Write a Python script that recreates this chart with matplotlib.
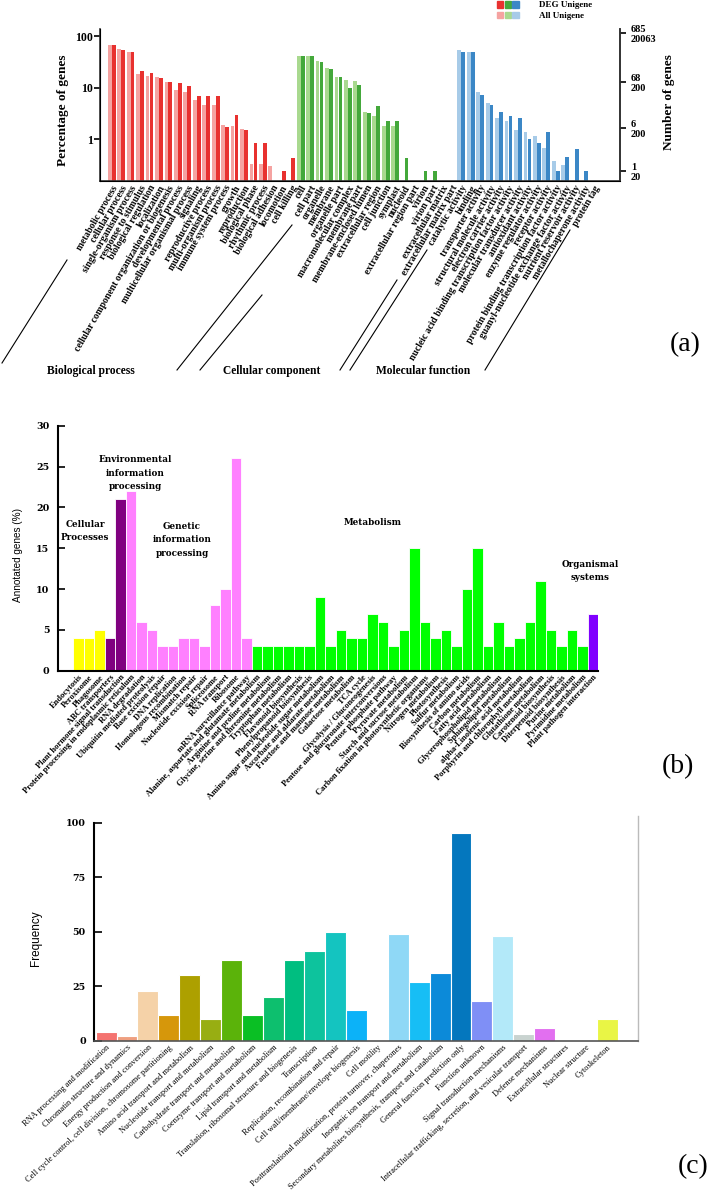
import matplotlib
matplotlib.use('Agg')
import matplotlib.pyplot as plt
from matplotlib.patches import Patch
from matplotlib.legend_handler import HandlerTuple
from matplotlib.lines import Line2D
from matplotlib.ticker import NullLocator
import numpy as np

# ---------------- DATA ----------------
# Panel (a): GO classification (percentage of genes, log scale)
bp_terms = ["metabolic process", "cellular process", "single-organism process", "response to stimulus",
            "biological regulation", "localization", "cellular component organization or biogenesis",
            "developmental process", "multicellular organismal process", "signaling", "reproductive process",
            "multi-organism process", "immune system process", "growth", "reproduction", "biological phase",
            "rhythmic process", "biological adhesion", "locomotion", "cell killing"]
bp_all = [67, 56, 49, 18.4, 16.8, 16.3, 12.7, 8.8, 8.0, 5.6, 4.6, 4.6, 1.9, 1.76, 1.56, 0.31, 0.31, 0.29, 0, 0]
bp_deg = [67, 53, 49, 21.3, 19, 15.1, 12.9, 12.1, 10.8, 6.7, 6.9, 6.7, 1.7, 2.9, 1.5, 0.81, 0.81, 0, 0.23, 0.42]

cc_terms = ["cell", "cell part", "organelle", "membrane", "organelle part", "macromolecular complex",
            "membrane part", "membrane-enclosed lumen", "extracellular region", "cell junction", "symplast",
            "nucleoid", "extracellular region part", "virion", "virion part", "extracellular matrix",
            "extracellular matrix part"]
cc_all = [41.7, 41.7, 33, 24, 16, 14, 13.6, 3.3, 2.75, 1.76, 1.76, 0, 0, 0, 0, 0, 0]
cc_deg = [41.7, 41.7, 31.8, 23, 15.8, 9.7, 11.3, 3.2, 4.4, 2.2, 2.2, 0.42, 0, 0.23, 0.23, 0, 0]

mf_terms = ["catalytic activity", "binding", "transporter activity", "structural molecule activity",
            "electron carrier activity", "nucleic acid binding transcription factor activity",
            "molecular transducer activity", "antioxidant activity", "enzyme regulator activity",
            "receptor activity", "protein binding transcription factor activity",
            "guanyl-nucleotide exchange factor activity", "nutrient reservoir activity",
            "metallochaperone activity", "protein tag"]
mf_all = [53.6, 48, 8, 5, 2.55, 2.26, 1.5, 1.35, 1.16, 0.65, 0.36, 0.3, 0, 0, 0]
mf_deg = [49, 48, 7, 4.5, 3.4, 2.75, 2.55, 1.0, 0.81, 1.37, 0.23, 0.43, 0.62, 0.23, 0]

right_tick_pos = [114, 12.8, 1.64, 0.24]
right_tick_labels = ["685\n20063", "68\n200", "6\n200", "1\n20"]

# Panel (b): KEGG classification (annotated genes %)
cell_terms = ["Endocytosis", "Peroxisome", "Phagosome"]
cell_vals = [4, 4, 5]
env_terms = ["ABC transporters", "Plant hormone signal transduction"]
env_vals = [4, 21]
gen_terms = ["Protein processing in endoplasmic reticulum", "RNA degradation", "Ubiquitin mediated proteolysis",
             "Base excision repair", "DNA replication", "Homologous recombination", "Mismatch repair",
             "Nucleotide excision repair", "Spliceosome", "RNA transport", "Ribosome", "mRNA surveillance pathway"]
gen_vals = [22, 6, 5, 3, 3, 4, 4, 3, 8, 10, 26, 4]
met_terms = ["Alanine, aspartate and glutamate metabolism", "Arginine and proline metabolism",
             "Glycine, serine and threonine metabolism", "Tryptophan metabolism", "Flavonoid biosynthesis",
             "Phenylpropanoid biosynthesis", "Amino sugar and nucleotide sugar metabolism",
             "Ascorbate and aldarate metabolism", "Fructose and mannose metabolism", "Galactose metabolism",
             "TCA cycle", "Glycolysis / Gluconeogenesis", "Pentose and glucuronate interconversions",
             "Pentose phosphate pathway", "Pyruvate metabolism", "Starch and sucrose metabolism",
             "Carbon fixation in photosynthetic organisms", "Nitrogen metabolism", "Photosynthesis",
             "Sulfur metabolism", "Biosynthesis of amino acids", "Carbon metabolism", "Fatty acid metabolism",
             "Glycerophospholipid metabolism", "Sphingolipid metabolism", "alpha-Linolenic acid metabolism",
             "Porphyrin and chlorophyll metabolism", "Glutathione metabolism", "Carotenoid biosynthesis",
             "Diterpenoid biosynthesis", "Purine metabolism", "Pyrimidine metabolism"]
met_vals = [3, 3, 3, 3, 3, 3, 9, 3, 5, 4, 4, 7, 6, 3, 5, 15, 6, 4, 5, 3, 10, 15, 3, 6, 3, 4, 6, 11, 5, 3, 5, 3]
org_terms = ["Plant pathogen interaction"]
org_vals = [7]

# Panel (c): KOG classification (frequency)
kog_terms = ["RNA processing and modification", "Chromatin structure and dynamics",
             "Energy production and conversion", "Cell cycle control, cell division, chromosome partitioning",
             "Amino acid transport and metabolism", "Nucleotide transport and metabolism",
             "Carbohydrate transport and metabolism", "Coenzyme transport and metabolism",
             "Lipid transport and metabolism", "Translation, ribosomal structure and biogenesis",
             "Transcription", "Replication, recombination and repair", "Cell wall/membrane/envelope biogenesis",
             "Cell motility", "Posttranslational modification, protein turnover, chaperones",
             "Inorganic ion transport and metabolism",
             "Secondary metabolites biosynthesis, transport and catabolism", "General function prediction only",
             "Function unknown", "Signal transduction mechanisms",
             "Intracellular trafficking, secretion, and vesicular transport", "Defense mechanisms",
             "Extracellular structures", "Nuclear structure", "Cytoskeleton"]
kog_vals = [4, 2, 23, 12, 30, 10, 37, 12, 20, 37, 41, 50, 14, 0, 49, 27, 31, 95, 18, 48, 3, 6, 0, 0, 10]
kog_colors = ["#F47370", "#EF9F80", "#F5D2A8", "#D6970B", "#ADA000", "#98AE12", "#5BB30A", "#0ABF24",
              "#0DBF6E", "#00BE80", "#0DC39D", "#14C4C0", "#0CB2F8", "#FFFFFF", "#8FD8F6", "#17BEF5",
              "#0C8AD9", "#0477BE", "#7F8FF6", "#B3E9F9", "#C9D3D0", "#E26FF0", "#FFFFFF", "#FFFFFF",
              "#E9F545"]

# ---------------- FIGURE ----------------
W, H = 709, 1203
fig = plt.figure(figsize=(W / 100, H / 100), dpi=100)
SERIF = ['Liberation Serif', 'DejaVu Serif']
WIDE = ['DejaVu Serif']
NARROW = ['Liberation Sans Narrow', 'Liberation Sans']


def add_ax(l, t, r, b):
    return fig.add_axes([l / W, 1 - b / H, (r - l) / W, (b - t) / H])


def fx(x):
    return x / W


def fy(y):
    return 1 - y / H


# ---------------- Panel (a) ----------------
bp_dark, bp_light = "#E8312F", "#F5A3A1"
cc_dark, cc_light = "#44A83B", "#A9D98F"
mf_dark, mf_light = "#3B87C6", "#A7CBE8"

terms_a = bp_terms + cc_terms + mf_terms
n_a = len(terms_a)
axa = add_ax(100, 29, 620, 181)
start = 0
for terms, allv, degv, cd, cl in [(bp_terms, bp_all, bp_deg, bp_dark, bp_light),
                                   (cc_terms, cc_all, cc_deg, cc_dark, cc_light),
                                   (mf_terms, mf_all, mf_deg, mf_dark, mf_light)]:
    xs = np.arange(start, start + len(terms))
    allv = np.array(allv, dtype=float)
    degv = np.array(degv, dtype=float)
    m1 = allv > 0
    m2 = degv > 0
    axa.bar(xs[m1] - 0.21, allv[m1], width=0.4, color=cl, bottom=0.01)
    axa.bar(xs[m2] + 0.21, degv[m2], width=0.4, color=cd, bottom=0.01)
    start += len(terms)

axa.set_yscale('log')
axa.set_ylim(0.153, 137)
axa.set_xlim(-1.24, n_a - 1 + 2.8)
axa.set_yticks([1, 10, 100])
axa.set_yticklabels(['1', '10', '100'])
axa.yaxis.set_minor_locator(NullLocator())
for lab in axa.get_yticklabels():
    lab.set_fontfamily(SERIF)
    lab.set_fontweight('bold')
    lab.set_fontsize(8.5)
axa.tick_params(axis='y', direction='out', length=4, width=1.2, pad=1)
axa.set_xticks(np.arange(n_a))
axa.set_xticklabels(terms_a, rotation=60, ha='right', va='top', rotation_mode='anchor',
                    fontsize=6.9, fontweight='bold', family=SERIF)
axa.tick_params(axis='x', length=0, pad=2)
axa.spines['top'].set_visible(False)
for s in ['left', 'bottom', 'right']:
    axa.spines[s].set_linewidth(1.2)
    axa.spines[s].set_color('#333333')
axa.set_ylabel("Percentage of genes", family=SERIF, fontweight='bold', fontsize=9.5)
axa.yaxis.set_label_coords((69 - 100) / 520, (181 - 110) / 152)

axa2 = axa.twinx()
axa2.set_yscale('log')
axa2.set_ylim(axa.get_ylim())
axa2.set_yticks(right_tick_pos)
axa2.set_yticklabels(right_tick_labels, family=SERIF, fontweight='bold', fontsize=7.5,
                     linespacing=1.1, ha='left')
axa2.yaxis.set_minor_locator(NullLocator())
axa2.tick_params(axis='y', direction='out', length=4, width=1.2, pad=4)
axa2.spines['top'].set_visible(False)
axa2.spines['right'].set_linewidth(1.2)
axa2.spines['right'].set_color('#333333')
axa2.set_ylabel("Number of genes", family=SERIF, fontweight='bold', fontsize=9.5, rotation=90)
axa2.yaxis.set_label_coords((663 - 100) / 520, (181 - 102) / 152)

# group separators and labels
for (x1, y1, x2, y2) in [(2, 363, 67, 260), (177, 370, 292, 225), (200, 370, 262, 295),
                         (340, 370, 397, 280), (350, 370, 427, 250), (485, 370, 570, 230)]:
    fig.add_artist(Line2D([fx(x1), fx(x2)], [fy(y1), fy(y2)], color='black', lw=0.8))
for txt, cx in [("Biological process", 91), ("Cellular component", 272), ("Molecular function", 423)]:
    fig.text(fx(cx), fy(371), txt, ha='center', va='center', family=SERIF, fontweight='bold', fontsize=8.3)

fig.legend(handles=[(Patch(color=bp_dark), Patch(color=cc_dark), Patch(color=mf_dark)),
                    (Patch(color=bp_light), Patch(color=cc_light), Patch(color=mf_light))],
           labels=['DEG Unigene', 'All Unigene'],
           handler_map={tuple: HandlerTuple(ndivide=None, pad=0.15)},
           loc='upper left', bbox_to_anchor=(fx(496), fy(0)), frameon=False,
           prop=dict(family=SERIF, weight='bold', size=6.5), handlelength=2.4, handleheight=0.75,
           handletextpad=2.3, labelspacing=0.25, borderpad=0.1, borderaxespad=0)

fig.text(fx(685), fy(345), "(a)", ha='center', va='center', family=SERIF, fontsize=20)

# ---------------- Panel (b) ----------------
class_colors = {"cell": "#FFFF00", "env": "#800080", "gen": "#FF80FF", "met": "#00FF00", "org": "#8000FF"}
terms_b = cell_terms + env_terms + gen_terms + met_terms + org_terms
vals_b = cell_vals + env_vals + gen_vals + met_vals + org_vals
cols_b = ([class_colors["cell"]] * len(cell_terms) + [class_colors["env"]] * len(env_terms) +
          [class_colors["gen"]] * len(gen_terms) + [class_colors["met"]] * len(met_terms) +
          [class_colors["org"]] * len(org_terms))
xb = np.arange(len(terms_b))
axb = add_ax(57.7, 425.7, 598, 670.7)
axb.bar(xb, vals_b, width=1.0, color=cols_b, edgecolor='white', linewidth=0.6)
axb.set_xlim(-1.96, len(terms_b) - 0.5)
axb.set_ylim(0, 30)
axb.set_yticks(np.arange(0, 31, 5))
for lab in axb.get_yticklabels():
    lab.set_fontfamily(WIDE)
    lab.set_fontweight('bold')
    lab.set_fontsize(6.8)
axb.tick_params(axis='y', direction='in', length=5, width=1.2, pad=6)
axb.set_xticks(xb)
axb.set_xticklabels(terms_b, rotation=47, ha='right', va='top', rotation_mode='anchor',
                    fontsize=6.0, fontweight='bold', family=SERIF)
axb.tick_params(axis='x', length=0, pad=2)
for s in ['top', 'right']:
    axb.spines[s].set_visible(False)
for s in ['left', 'bottom']:
    axb.spines[s].set_linewidth(1.5)
axb.set_ylabel("Annotated genes (%)", family=NARROW, fontsize=7.2)
axb.yaxis.set_label_coords((23 - 57.7) / 540.3, (670.7 - 555) / 245)

for txt, cx, cy in [("Cellular\nProcesses", 85, 531), ("Environmental\ninformation\nprocessing", 135, 473),
                    ("Genetic\ninformation\nprocessing", 182, 540), ("Metabolism", 373, 522),
                    ("Organismal\nsystems", 590, 571)]:
    fig.text(fx(cx), fy(cy), txt, ha='center', va='center', family=WIDE, fontweight='bold',
             fontsize=6.3, linespacing=1.6)
fig.text(fx(678), fy(767), "(b)", ha='center', va='center', family=SERIF, fontsize=20)

# ---------------- Panel (c) ----------------
xc = np.arange(len(kog_terms))
axc = add_ax(94, 816, 638, 1040.7)
axc.bar(xc, kog_vals, width=1.0, color=kog_colors, edgecolor='white', linewidth=0.8)
axc.set_xlim(-0.58, 25.48)
axc.set_ylim(0, 103)
axc.set_yticks([0, 25, 50, 75, 100])
for lab in axc.get_yticklabels():
    lab.set_fontfamily(WIDE)
    lab.set_fontweight('bold')
    lab.set_fontsize(6.8)
axc.tick_params(axis='y', direction='in', length=6, width=1.2, pad=6)
axc.set_xticks(xc)
axc.set_xticklabels(kog_terms, rotation=43, ha='right', va='top', rotation_mode='anchor',
                    fontsize=6.0, family=SERIF)
axc.tick_params(axis='x', length=0, pad=2)
axc.spines['top'].set_visible(False)
axc.spines['left'].set_bounds(0, 100)
axc.spines['left'].set_linewidth(1.5)
axc.spines['right'].set_color('#BBBBBB')
axc.spines['right'].set_linewidth(1.0)
axc.spines['bottom'].set_color('#555555')
axc.spines['bottom'].set_linewidth(1.2)
axc.set_ylabel("Frequency", family=NARROW, fontsize=8.5)
axc.yaxis.set_label_coords((42 - 94) / 544, (1040.7 - 938) / 224.7)
fig.text(fx(693), fy(1167), "(c)", ha='center', va='center', family=SERIF, fontsize=20)

fig.savefig("out.png", dpi=100)
